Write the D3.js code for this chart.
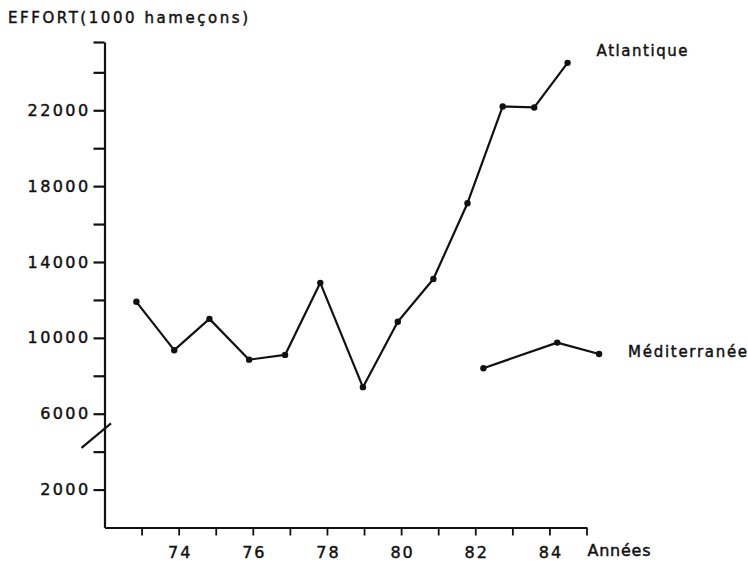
<!DOCTYPE html>
<html>
<head>
<meta charset="utf-8">
<script src="https://cdn.jsdelivr.net/npm/d3@7"></script>
<style>
  html, body { margin: 0; padding: 0; background: #fff; }
  svg { display: block; }
  text { font-family: "DejaVu Sans", sans-serif; fill: #111; stroke: #111; stroke-width: 0.45px; }
</style>
</head>
<body>
<svg id="chart" width="748" height="563"></svg>
<script>
// Fishing effort (thousands of hooks) by year
const atlYears  = [72.86, 73.88, 74.83, 75.90, 76.87, 77.82, 78.97, 79.91, 80.87, 81.79, 82.74, 83.59, 84.49];
const atlEffort = [11900, 9350, 11000, 8850, 9100, 12900, 7400, 10850, 13100, 17100, 22200, 22150, 24500];

const medYears  = [82.22, 84.21, 85.34];
const medEffort = [8400, 9750, 9150];

const xTickYears   = [73, 74, 75, 76, 77, 78, 79, 80, 81, 82, 83, 84, 85];
const xLabelYears  = [74, 76, 78, 80, 82, 84];
const yTickValues  = [2000, 4000, 6000, 8000, 10000, 12000, 14000, 16000, 18000, 20000, 22000, 24000, 25600];
const yLabelValues = [2000, 6000, 10000, 14000, 18000, 22000];

const xDomain = [72, 85];
const yDomain = [0, 25600];
const breakValue = 5200;   // where the axis break slash crosses the y axis

const svg = d3.select("#chart");
const ink = "#111";

const x = d3.scaleLinear().domain(xDomain).range([104.5, 586.5]);
const y = d3.scaleLinear().domain(yDomain).range([527.5, 42]);

// Y axis
const yAxis = d3.axisLeft(y)
  .tickValues(yTickValues)
  .tickSize(11)
  .tickSizeOuter(0)
  .tickFormat(d => yLabelValues.includes(d) ? String(d) : "");

const gy = svg.append("g")
  .attr("transform", `translate(${x(xDomain[0])},0)`)
  .call(yAxis);
gy.select(".domain").attr("stroke", ink).attr("stroke-width", 2.2);
gy.selectAll(".tick line").attr("stroke", ink).attr("stroke-width", 2.2);
gy.selectAll(".tick text")
  .attr("x", -14)
  .style("font-size", "16px")
  .style("letter-spacing", "2.4px")
  .attr("fill", ink);

// X axis
const xAxis = d3.axisBottom(x)
  .tickValues(xTickYears)
  .tickSize(8)
  .tickSizeOuter(0)
  .tickFormat(d => xLabelYears.includes(d) ? String(d) : "");

const gx = svg.append("g")
  .attr("transform", `translate(0,${y(0)})`)
  .call(xAxis);
gx.select(".domain").attr("stroke", ink).attr("stroke-width", 2.2);
gx.selectAll(".tick line").attr("stroke", ink).attr("stroke-width", 1.8);
gx.selectAll(".tick text")
  .attr("y", 19)
  .attr("dy", "0.71em")
  .attr("dx", "1px")
  .style("font-size", "16px")
  .style("letter-spacing", "2px")
  .attr("fill", ink);

svg.append("text")
  .attr("x", x(xDomain[1]) + 1)
  .attr("y", y(0) + 28)
  .attr("textLength", 63)
  .attr("lengthAdjust", "spacing")
  .style("font-size", "16px")
  .text("Années");

// Axis break slash
const bx = x(xDomain[0]), by = y(breakValue);
svg.append("line")
  .attr("x1", bx - 23).attr("y1", by + 19)
  .attr("x2", bx + 6.5).attr("y2", by - 5.5)
  .attr("stroke", ink).attr("stroke-width", 2.2);

// Y axis title
svg.append("text")
  .attr("x", 8)
  .attr("y", 23)
  .attr("textLength", 240)
  .attr("lengthAdjust", "spacing")
  .style("font-size", "15px")
  .text("EFFORT(1000 hameçons)");

// Series
const line = d3.line().x(d => x(d[0])).y(d => y(d[1]));

function drawSeries(years, values) {
  const pts = years.map((yr, i) => [yr, values[i]]);
  svg.append("path")
    .datum(pts)
    .attr("d", line)
    .attr("fill", "none")
    .attr("stroke", ink)
    .attr("stroke-width", 2.2)
    .attr("stroke-linejoin", "round");
  svg.append("g").selectAll("circle")
    .data(pts)
    .join("circle")
    .attr("cx", d => x(d[0]))
    .attr("cy", d => y(d[1]))
    .attr("r", 3.2)
    .attr("fill", ink);
  return pts;
}

const atl = drawSeries(atlYears, atlEffort);
const med = drawSeries(medYears, medEffort);

// Series labels
const atlLast = atl[atl.length - 1];
svg.append("text")
  .attr("x", x(atlLast[0]) + 29)
  .attr("y", y(atlLast[1]) - 6.5)
  .attr("textLength", 91)
  .attr("lengthAdjust", "spacing")
  .style("font-size", "15px")
  .text("Atlantique");

const medLast = med[med.length - 1];
svg.append("text")
  .attr("x", x(medLast[0]) + 29)
  .attr("y", y(medLast[1]) + 3)
  .attr("textLength", 119)
  .attr("lengthAdjust", "spacing")
  .style("font-size", "15px")
  .text("Méditerranée");
</script>
</body>
</html>
